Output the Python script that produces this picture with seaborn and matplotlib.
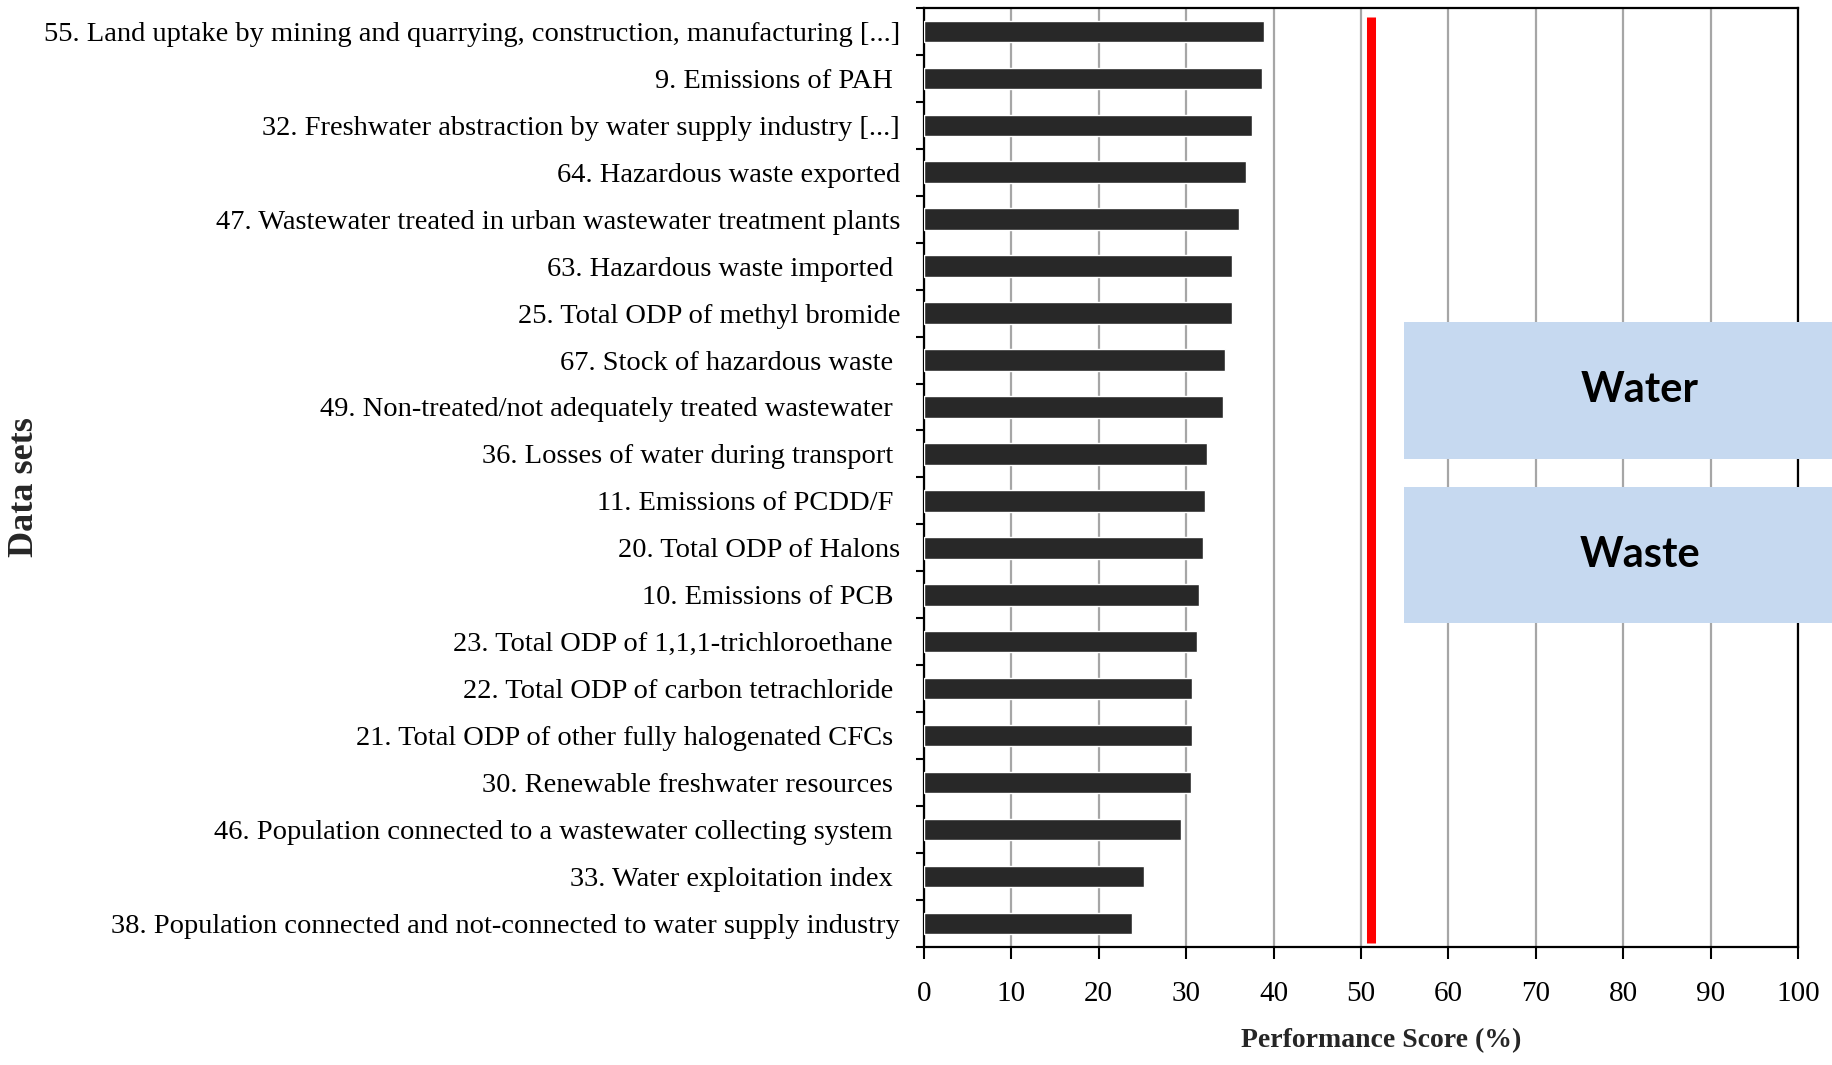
import matplotlib
matplotlib.use("Agg")
import matplotlib.pyplot as plt
import seaborn as sns
import pandas as pd
from matplotlib.patches import Rectangle
from matplotlib.ticker import FixedLocator

# ---- data ----
labels = [
    "55. Land uptake by mining and quarrying, construction, manufacturing [...]",
    "9. Emissions of PAH ",
    "32. Freshwater abstraction by water supply industry [...]",
    "64. Hazardous waste exported",
    "47. Wastewater treated in urban wastewater treatment plants",
    "63. Hazardous waste imported ",
    "25. Total ODP of methyl bromide",
    "67. Stock of hazardous waste ",
    "49. Non-treated/not adequately treated wastewater ",
    "36. Losses of water during transport ",
    "11. Emissions of PCDD/F ",
    "20. Total ODP of Halons",
    "10. Emissions of PCB ",
    "23. Total ODP of 1,1,1-trichloroethane ",
    "22. Total ODP of carbon tetrachloride ",
    "21. Total ODP of other fully halogenated CFCs ",
    "30. Renewable freshwater resources ",
    "46. Population connected to a wastewater collecting system ",
    "33. Water exploitation index ",
    "38. Population connected and not-connected to water supply industry",
]
scores = [38.9, 38.7, 37.5, 36.8, 36.1, 35.2, 35.2, 34.5, 34.2, 32.4,
          32.2, 31.9, 31.5, 31.2, 30.7, 30.7, 30.6, 29.4, 25.2, 23.8]
threshold = 51.1
x_ticks = [0, 10, 20, 30, 40, 50, 60, 70, 80, 90, 100]
legend_labels = ["Water", "Waste"]

df = pd.DataFrame({"label": labels, "score": scores})

sns.set_style("white")
plt.rcParams["font.family"] = ["Liberation Serif", "DejaVu Serif"]

fig = plt.figure(figsize=(18.33, 10.65), dpi=100)
ax = fig.add_axes([0.504, 0.111, 0.477, 0.8815])

sns.barplot(data=df, x="score", y="label", orient="h", color="#282828",
            saturation=1, width=0.46, ax=ax, zorder=3)

ax.set_xlim(0, 100)
ax.set_ylim(len(labels) - 0.5, -0.5)
ax.xaxis.set_major_locator(FixedLocator(x_ticks))
ax.set_xticklabels([str(t) for t in x_ticks])

ax.grid(axis="x", color="#a6a6a6", linewidth=1.6, zorder=0)
ax.grid(axis="y", visible=False)
ax.set_axisbelow(True)

# threshold line
ax.axvline(threshold, ymin=0.004, ymax=0.99, color="#ff0000", linewidth=6.5,
           solid_capstyle="butt", zorder=4)

for sp in ax.spines.values():
    sp.set_color("black")
    sp.set_linewidth(1.6)
    sp.set_visible(True)

# y ticks at category boundaries
ax.yaxis.set_minor_locator(FixedLocator([i - 0.5 for i in range(len(labels) + 1)]))
ax.tick_params(axis="y", which="major", length=0, pad=17, labelsize=20.5, colors="black")
ax.tick_params(axis="y", which="minor", length=6, width=1.5, direction="out", color="black", left=True)
ax.tick_params(axis="x", which="major", length=8.5, width=1.5, direction="out", pad=16,
               labelsize=21, colors="black", bottom=True)

ax.set_xlabel("Performance Score (%)", fontsize=20, fontweight="bold")
ax.xaxis.set_label_coords(0.523, -0.087)
ax.set_ylabel("Data sets", fontsize=26, fontweight="bold")
ax.yaxis.set_label_coords(-1.010, 0.49)

# category boxes (overlay, clipped at figure edge)
box_color = "#c6d9f0"
boxes = [(322, 459), (487, 623)]
W, H = 1833, 1065
for (top, bot), name in zip(boxes, legend_labels):
    x0 = 1404 / W
    y0 = 1 - bot / H
    h = (bot - top) / H
    fig.patches.append(Rectangle((x0, y0), 1.2 - x0, h, transform=fig.transFigure,
                                 facecolor=box_color, edgecolor="none", zorder=10))
    fig.text(1640 / W, 1 - (top + bot) / 2 / H, name, ha="center", va="center",
             fontsize=30, fontweight="bold", color="black",
             family=["Lato", "DejaVu Sans"], zorder=11)

fig.savefig("out.png", dpi=100)
